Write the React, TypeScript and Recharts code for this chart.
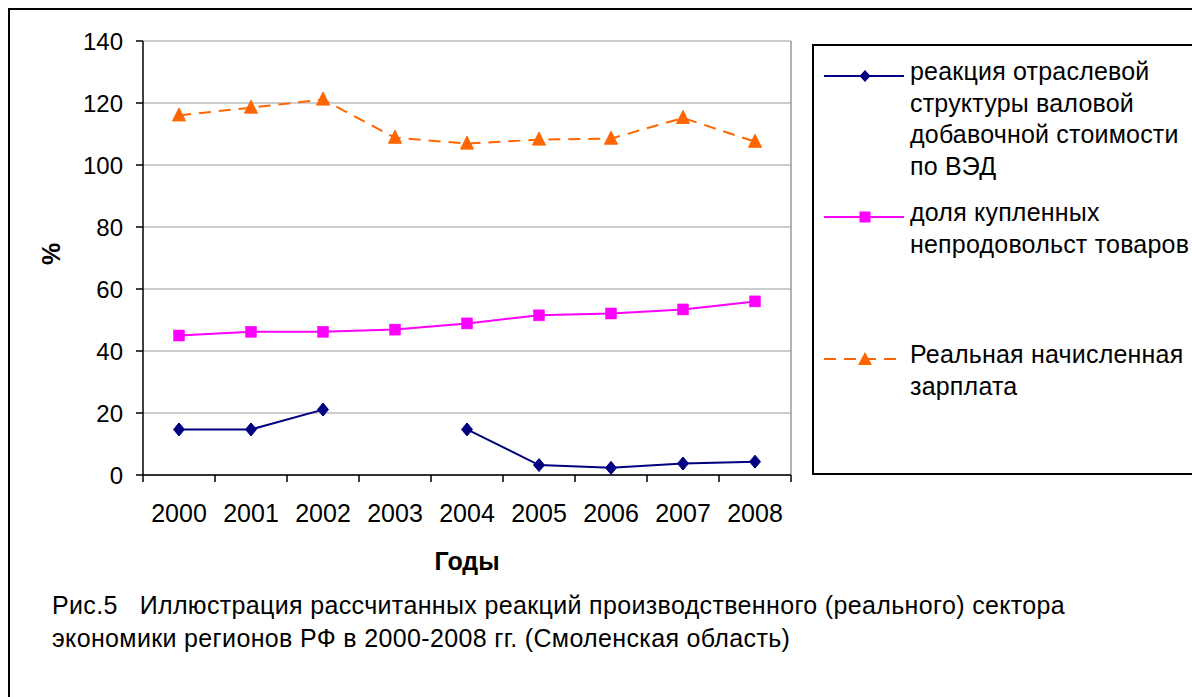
import React from 'react';
import { LineChart, Line, XAxis, YAxis, CartesianGrid, Legend, ReferenceLine } from 'recharts';

const years = ['2000', '2001', '2002', '2003', '2004', '2005', '2006', '2007', '2008'];
const reactionGVA: (number | null)[] = [14.7, 14.7, 21.1, null, 14.7, 3.2, 2.3, 3.7, 4.3];
const nonFoodShare = [45.0, 46.2, 46.2, 46.9, 48.9, 51.5, 52.1, 53.4, 56.0];
const realWage = [116.0, 118.5, 121.1, 108.8, 106.9, 108.2, 108.5, 115.2, 107.5];
const yTicks = [0, 20, 40, 60, 80, 100, 120, 140];

const seriesNames = [
  'реакция отраслевой структуры валовой добавочной стоимости по ВЭД',
  'доля купленных непродовольст товаров',
  'Реальная начисленная зарплата',
];
const legendLines = [
  ['реакция отраслевой', 'структуры валовой', 'добавочной стоимости', 'по ВЭД'],
  ['доля купленных', 'непродовольст товаров'],
  ['Реальная начисленная', 'зарплата'],
];
const captionLines = [
  'Рис.5   Иллюстрация рассчитанных реакций производственного (реального) сектора',
  'экономики регионов РФ в 2000-2008 гг. (Смоленская область)',
];
const xTitle = 'Годы';
const yTitle = '%';

const BLUE = '#000080';
const MAGENTA = '#FF00FF';
const ORANGE = '#FF6600';
const FONT = 'Arial, "Liberation Sans", sans-serif';

const data = years.map((y, i) => ({
  pos: i + 0.5,
  year: y,
  a: reactionGVA[i],
  b: nonFoodShare[i],
  c: realWage[i],
}));
// boundaries (tick marks) and centres (labels) of each year category
const xTicks = [...years.map((_, i) => i), years.length, ...years.map((_, i) => i + 0.5)].sort((p, q) => p - q);

const XTick = (props: any) => {
  const { x, y, payload } = props;
  const v = payload.value;
  if (Number.isInteger(v)) {
    return <line x1={x} y1={y} x2={x} y2={y + 7} stroke="#000" strokeWidth={1.5} />;
  }
  return (
    <text x={x} y={y + 29.5} dy="0.71em" textAnchor="middle" fontSize={25} fill="#000" fontFamily={FONT}>
      {years[Math.floor(v)]}
    </text>
  );
};

const Diamond = (props: any) => {
  const { cx, cy } = props;
  if (cx == null || cy == null || props.value == null) return null;
  return <polygon points={`${cx},${cy - 6.5} ${cx + 5.5},${cy} ${cx},${cy + 6.5} ${cx - 5.5},${cy}`} fill={BLUE} stroke={BLUE} strokeWidth={1} />;
};
const Square = (props: any) => {
  const { cx, cy } = props;
  if (cx == null || cy == null) return null;
  return <rect x={cx - 5.5} y={cy - 5.5} width={11} height={11} fill={MAGENTA} stroke={MAGENTA} strokeWidth={0.5} />;
};
const Triangle = (props: any) => {
  const { cx, cy } = props;
  if (cx == null || cy == null) return null;
  return <polygon points={`${cx},${cy - 7.5} ${cx + 6.5},${cy + 5.5} ${cx - 6.5},${cy + 5.5}`} fill={ORANGE} stroke={ORANGE} strokeWidth={1} />;
};

const legendIcons = [
  (
    <svg width={84} height={20}>
      <line x1={0} y1={10} x2={80} y2={10} stroke={BLUE} strokeWidth={2} />
      <polygon points="41,4 46.5,10 41,16 35.5,10" fill={BLUE} />
    </svg>
  ),
  (
    <svg width={84} height={20}>
      <line x1={0} y1={10} x2={80} y2={10} stroke={MAGENTA} strokeWidth={2} />
      <rect x={35.5} y={4.5} width={11} height={11} fill={MAGENTA} />
    </svg>
  ),
  (
    <svg width={84} height={20}>
      <line x1={0} y1={10} x2={80} y2={10} stroke={ORANGE} strokeWidth={2} strokeDasharray="12 8" />
      <polygon points="41,3 48,16 34,16" fill={ORANGE} />
    </svg>
  ),
];
const legendTops = [10, 151, 293];

const LegendBox = () => (
  <div
    style={{
      position: 'relative',
      width: 420,
      height: 431,
      boxSizing: 'border-box',
      border: '2px solid #000',
      background: '#fff',
      fontFamily: FONT,
      fontSize: 25,
      letterSpacing: '0.2px',
      lineHeight: '31.5px',
      color: '#000',
    }}
  >
    {legendLines.map((lines, i) => (
      <div key={seriesNames[i]} style={{ position: 'absolute', left: 0, top: legendTops[i], width: 420 }}>
        <div style={{ position: 'absolute', left: 10, top: 5.75 }}>{legendIcons[i]}</div>
        <div style={{ position: 'absolute', left: 96, top: 0, whiteSpace: 'nowrap' }}>
          {lines.map((l) => (
            <div key={l}>{l}</div>
          ))}
        </div>
      </div>
    ))}
  </div>
);

export default function App() {
  return (
    <div style={{ position: 'fixed', left: 0, top: 0, width: 1192, height: 697, overflow: 'hidden', background: '#fff' }}>
      <div
        style={{
          position: 'absolute',
          left: 8,
          top: 8,
          width: 1300,
          height: 800,
          border: '2px solid #000',
        }}
      />
      <div style={{ position: 'absolute', left: 0, top: 0 }}>
        <LineChart
          width={1192}
          height={697}
          data={data}
          margin={{ top: 41, right: 401, bottom: 162, left: 83 }}
          style={{ fontFamily: FONT }}
        >
          <CartesianGrid vertical={false} stroke="#999" />
          <XAxis
            dataKey="pos"
            type="number"
            domain={[0, years.length]}
            ticks={xTicks}
            tick={<XTick />}
            tickLine={false}
            tickSize={0}
            tickMargin={0}
            height={60}
            stroke="#000"
            strokeWidth={1.5}
            interval={0}
            allowDataOverflow
          />
          <YAxis
            domain={[0, 140]}
            ticks={yTicks}
            width={60}
            tickSize={7}
            tickMargin={13}
            stroke="#000"
            strokeWidth={1.5}
            tick={{ fill: '#000', fontSize: 24, fontFamily: FONT }}
            interval={0}
          />
          <ReferenceLine x={years.length} stroke="#999" strokeWidth={1.5} />
          <Line
            dataKey="a"
            name={seriesNames[0]}
            stroke={BLUE}
            strokeWidth={2}
            dot={<Diamond />}
            activeDot={false}
            connectNulls={false}
            isAnimationActive={false}
          />
          <Line
            dataKey="b"
            name={seriesNames[1]}
            stroke={MAGENTA}
            strokeWidth={2}
            dot={<Square />}
            activeDot={false}
            isAnimationActive={false}
          />
          <Line
            dataKey="c"
            name={seriesNames[2]}
            stroke={ORANGE}
            strokeWidth={2}
            strokeDasharray="12 8"
            dot={<Triangle />}
            activeDot={false}
            isAnimationActive={false}
          />
          <Legend
            layout="horizontal"
            verticalAlign="middle"
            align="center"
            content={() => <LegendBox />}
            wrapperStyle={{ left: 812, top: 44, right: 'auto', width: 420, height: 431 }}
          />
        </LineChart>
      </div>
      <div
        style={{
          position: 'absolute',
          left: 467,
          top: 547,
          transform: 'translateX(-50%)',
          fontFamily: FONT,
          fontSize: 25,
          fontWeight: 'bold',
          lineHeight: '28px',
        }}
      >
        {xTitle}
      </div>
      <div
        style={{
          position: 'absolute',
          left: 51,
          top: 254,
          transform: 'translate(-50%, -50%) rotate(-90deg)',
          fontFamily: FONT,
          fontSize: 25,
          fontWeight: 'bold',
          lineHeight: '28px',
        }}
      >
        {yTitle}
      </div>
      <div
        style={{
          position: 'absolute',
          left: 52,
          top: 589,
          fontFamily: FONT,
          fontSize: 25,
          letterSpacing: '0.35px',
          lineHeight: '33px',
          whiteSpace: 'pre',
          color: '#000',
        }}
      >
        {captionLines.map((l) => (
          <div key={l}>{l}</div>
        ))}
      </div>
    </div>
  );
}
